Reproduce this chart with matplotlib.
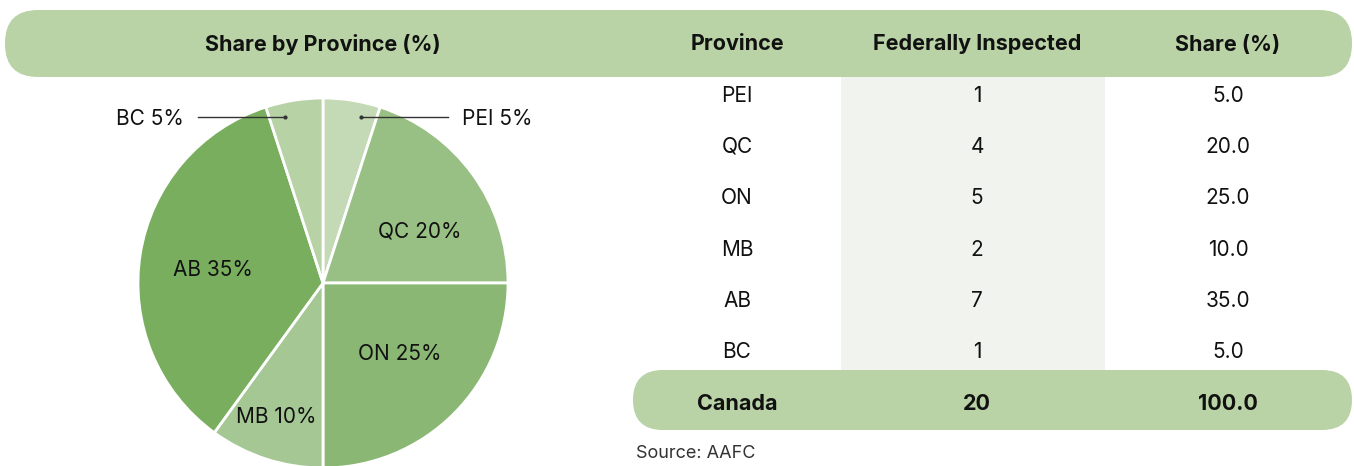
import numpy as np
import matplotlib
matplotlib.use("Agg")
import matplotlib.pyplot as plt
from matplotlib.patches import FancyBboxPatch, Rectangle

# ---- data ----
provinces = ["PEI", "QC", "ON", "MB", "AB", "BC"]
inspected = [1, 4, 5, 2, 7, 1]
shares = [5.0, 20.0, 25.0, 10.0, 35.0, 5.0]
total_label = "Canada"
total_inspected = 20
total_share = 100.0
col_headers = ["Province", "Federally Inspected", "Share (%)"]
pie_title = "Share by Province (%)"
source = "Source: AAFC"

# ---- style ----
W, H = 1354, 466
FONT = "Inter"
plt.rcParams["font.family"] = [FONT, "DejaVu Sans"]
pie_colors = ["#c4d9b5", "#98c084", "#8ab773", "#a4c794", "#79ae5e", "#b7d2a5"]
band = "#b9d3a6"
colbg = "#f1f4ee"
txt = "#111111"

fig = plt.figure(figsize=(W / 100, H / 100), dpi=100)
ax = fig.add_axes([0, 0, 1, 1])
ax.set_xlim(0, W)
ax.set_ylim(0, H)
ax.axis("off")

def py(y):  # convert from top-based pixel y
    return H - y

# header band
ax.add_patch(FancyBboxPatch((5, py(77)), 1347, 67,
                            boxstyle="round,pad=0,rounding_size=33",
                            fc=band, ec="none", zorder=1))
# column background
ax.add_patch(Rectangle((841, py(372)), 264, 372 - 77, fc=colbg, ec="none", zorder=0.5))
# total band
ax.add_patch(FancyBboxPatch((633, py(430)), 719, 60,
                            boxstyle="round,pad=0,rounding_size=30",
                            fc=band, ec="none", zorder=1))

hfs = 15.5
fs = 15
off = 1.5  # small vertical nudge for text centering
ax.text(323, py(43 + off), pie_title, ha="center", va="center", fontsize=hfs,
        fontweight="bold", color=txt, zorder=3)
col_x = [737, 977, 1228]
for x, h in zip(col_x, col_headers):
    ax.text(x, py(43 + off), h, ha="center", va="center", fontsize=hfs,
            fontweight="bold", color=txt, zorder=3)

row_y0, row_dy = 94, 51.4
for i, (p, n, s) in enumerate(zip(provinces, inspected, shares)):
    y = py(row_y0 + i * row_dy + off)
    ax.text(col_x[0], y, p, ha="center", va="center", fontsize=fs, color=txt, zorder=3)
    ax.text(col_x[1], y, f"{n}", ha="center", va="center", fontsize=fs, color=txt, zorder=3)
    ax.text(col_x[2], y, f"{s:.1f}", ha="center", va="center", fontsize=fs, color=txt, zorder=3)

yt = py(402 + off)
ax.text(col_x[0], yt, total_label, ha="center", va="center", fontsize=hfs, fontweight="bold", color=txt, zorder=3)
ax.text(col_x[1], yt, f"{total_inspected}", ha="center", va="center", fontsize=hfs, fontweight="bold", color=txt, zorder=3)
ax.text(col_x[2], yt, f"{total_share:.1f}", ha="center", va="center", fontsize=hfs, fontweight="bold", color=txt, zorder=3)

ax.text(636, py(452 + off), source, ha="left", va="center", fontsize=13, color="#333333", zorder=3)

# ---- pie ----
cx, cy, R = 323, py(283), 185
wedges, _ = ax.pie(shares, colors=pie_colors, startangle=90, counterclock=False,
                   center=(cx, cy), radius=R, frame=True,
                   wedgeprops=dict(edgecolor="white", linewidth=2))
ax.set_xlim(0, W)
ax.set_ylim(0, H)
ax.set_aspect("auto")
ax.axis("off")

# label placement (distance as fraction of radius, angle nudge in degrees)
inner_pos = [None, (0.597, -7.3), (0.56, 2.5), (0.76, -1.5), (0.60, 1.7), None]
for w, p, s, pos in zip(wedges, provinces, shares, inner_pos):
    mid = (w.theta1 + w.theta2) / 2
    lab = f"{p} {s:.0f}%"
    if pos is not None:
        d, da = pos
        ang = np.deg2rad(mid + da)
        ax.text(cx + d * R * np.cos(ang), cy + d * R * np.sin(ang) - off, lab,
                ha="center", va="center", fontsize=fs, color=txt, zorder=4)
    else:
        side = 1 if np.cos(np.deg2rad(mid)) > 0 else -1
        ang = np.deg2rad(mid - side * 4)
        px_ = cx + 0.92 * R * np.cos(ang)
        py_ = cy + 0.92 * R * np.sin(ang)
        x_end = px_ + side * 87
        ax.plot([px_, x_end], [py_, py_], color="#333333", lw=1, zorder=4)
        ax.plot([px_], [py_], "o", color="#333333", ms=2, zorder=4)
        ax.text(x_end + side * 14, py_ - off, lab, ha="left" if side > 0 else "right",
                va="center", fontsize=fs, color=txt, zorder=4)

fig.savefig("out.png", dpi=100)
